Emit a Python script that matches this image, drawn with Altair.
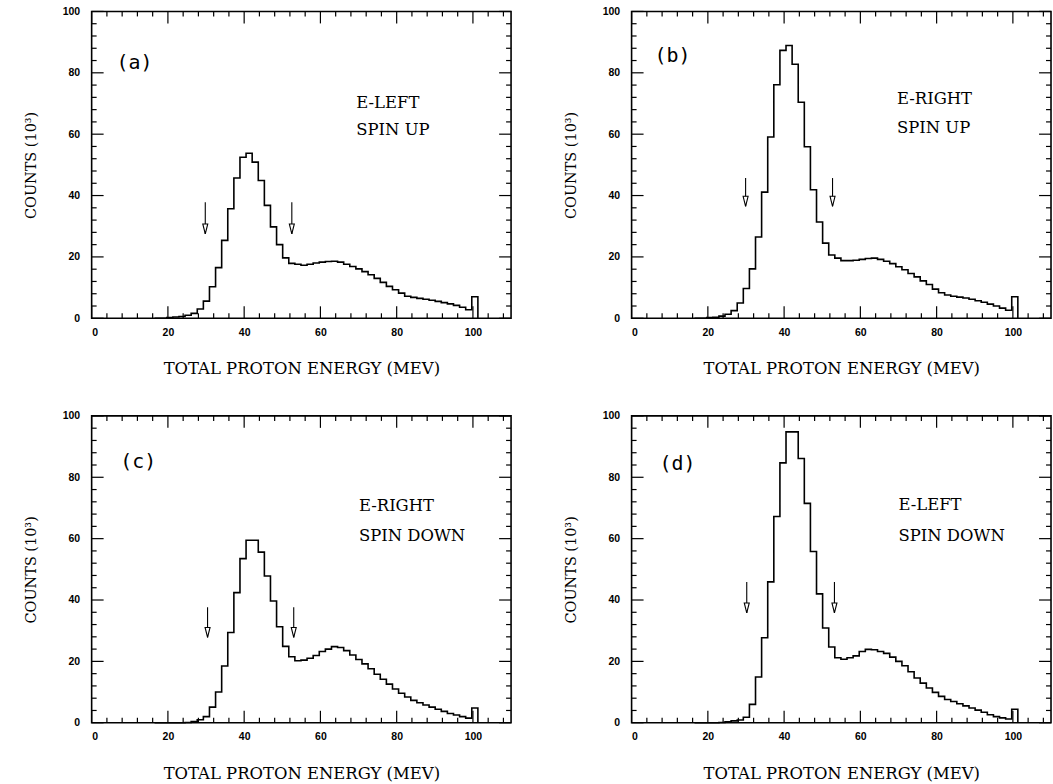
import altair as alt
import pandas as pd

# ---- data ----------------------------------------------------------------
# left edges of the energy bins (MeV); last entry closes the final bin
EDGES = [16.5, 18.1, 19.7, 21.3, 22.9, 24.5, 26.1, 27.7, 29.3, 30.9,
         32.5, 34.1, 35.7, 37.3, 38.9, 40.5, 42.1, 43.7, 45.3, 46.9,
         48.5, 50.1, 51.7, 53.3, 54.9, 56.5, 58.1, 59.7, 61.3, 62.9,
         64.5, 66.1, 67.7, 69.3, 70.9, 72.5, 74.1, 75.7, 77.3, 78.9,
         80.5, 82.1, 83.7, 85.3, 86.9, 88.5, 90.1, 91.7, 93.3, 94.9,
         96.5, 98.1, 99.7, 101.3]

# counts (10^3) per bin, one list per panel
COUNTS_A = [0, 0, 0.2, 0.4, 0.6, 1.0, 1.6, 3.0, 5.6, 10.3,
            16.5, 25.4, 35.7, 45.7, 52.5, 53.8, 50.9, 44.9, 36.8, 29.8,
            24.0, 19.7, 17.9, 17.6, 17.3, 17.6, 18.0, 18.3, 18.5, 18.6,
            18.3, 17.6, 16.9, 16.1, 15.2, 14.2, 13.0, 11.7, 10.4, 9.3,
            8.2, 7.2, 6.8, 6.5, 6.2, 5.9, 5.5, 5.1, 4.7, 4.2,
            3.6, 2.8, 7.0, 0]
COUNTS_B = [0, 0, 0.2, 0.3, 0.7, 1.3, 2.5, 5.0, 9.7, 16.1,
            26.5, 41.1, 59.1, 76.1, 87.3, 88.9, 82.8, 70.4, 55.9, 41.9,
            31.4, 24.5, 20.6, 19.6, 18.8, 18.8, 18.9, 19.2, 19.5, 19.6,
            19.2, 18.6, 17.8, 16.8, 15.8, 14.6, 13.5, 12.2, 11.0, 9.5,
            8.3, 7.6, 7.2, 6.9, 6.6, 6.2, 5.7, 5.2, 4.6, 4.0,
            3.3, 2.6, 7.0, 0]
COUNTS_C = [0, 0, 0, 0, 0, 0.1, 0.4, 1.0, 2.0, 5.1,
            10.0, 18.5, 29.4, 42.4, 53.5, 59.5, 59.5, 55.6, 47.8, 39.7,
            31.3, 24.9, 21.5, 20.2, 20.4, 21.0, 21.9, 23.2, 24.0, 24.8,
            24.5, 23.5, 22.1, 20.6, 19.2, 17.6, 15.8, 14.2, 12.6, 11.0,
            9.6, 8.4, 7.3, 6.5, 5.8, 5.1, 4.4, 3.7, 3.0, 2.5,
            2.0, 1.5, 4.8, 0]
COUNTS_D = [0, 0, 0, 0, 0.1, 0.3, 0.6, 0.9, 1.8, 6.0,
            14.9, 27.7, 45.9, 67.2, 84.7, 94.8, 94.8, 86.1, 71.5, 55.8,
            42.0, 30.9, 24.7, 21.2, 20.7, 21.2, 21.8, 23.2, 23.9, 23.8,
            23.2, 22.6, 21.4, 20.0, 18.6, 16.6, 14.6, 12.9, 11.3, 9.9,
            8.6, 7.6, 6.9, 6.2, 5.5, 4.8, 4.1, 3.4, 2.6, 2.0,
            1.6, 1.2, 4.4, 0]

# panel tags and annotations (x in MeV, y in counts)
TAGS = ["(a)", "(b)", "(c)", "(d)"]
TAG_X = [6.5, 6.0, 7.5, 7.3]
TAG_Y = [83.1, 85.4, 85.1, 84.4]
LINE1 = ["E-LEFT", "E-RIGHT", "E-RIGHT", "E-LEFT"]
LINE2 = ["SPIN UP", "SPIN UP", "SPIN DOWN", "SPIN DOWN"]
TXT_X = [69.4, 69.6, 70.1, 70.0]
LINE1_Y = [70.1, 71.4, 70.6, 71.1]
LINE2_Y = [61.4, 62.0, 60.8, 61.0]

# arrows marking the energy cuts
ARROW_X = [[29.8, 52.5], [29.9, 52.7], [30.4, 53.0], [30.2, 53.2]]
ARROW_TOP = [37.8, 45.7, 37.6, 45.9]
ARROW_TIP = [27.5, 36.5, 27.8, 35.8]

X_MAJOR = [0, 20, 40, 60, 80, 100]
X_MINOR = [4, 8, 12, 16, 24, 28, 32, 36, 44, 48, 52, 56, 64, 68, 72, 76,
           84, 88, 92, 96, 104, 108]
Y_MAJOR = [0, 20, 40, 60, 80, 100]
Y_MINOR = [4, 8, 12, 16, 24, 28, 32, 36, 44, 48, 52, 56, 64, 68, 72, 76,
           84, 88, 92, 96]

X_TITLE = "TOTAL PROTON ENERGY (MEV)"
Y_TITLE = "COUNTS (10³)"

# ---- layout / style --------------------------------------------------------
W, H = 421, 308
MAJOR_LEN, MINOR_LEN = 12, 5
XS = alt.Scale(domain=[0, 110], nice=False, zero=False)
YS = alt.Scale(domain=[0, 100], nice=False, zero=False)
SERIF = "DejaVu Serif"
LABEL_FONT = "Liberation Sans"

X_AXIS = alt.Axis(values=X_MAJOR, ticks=False, domain=False, grid=False,
                  labelFont=LABEL_FONT, labelFontWeight="bold",
                  labelFontSize=10.5, labelColor="black", labelPadding=9,
                  title=X_TITLE, titleFont=SERIF, titleFontWeight="normal",
                  titleFontSize=16.5, titleColor="black", titlePadding=23)
Y_AXIS = alt.Axis(values=Y_MAJOR, ticks=False, domain=False, grid=False,
                  labelFont=LABEL_FONT, labelFontWeight="bold",
                  labelFontSize=10.5, labelColor="black", labelPadding=12,
                  title=Y_TITLE, titleFont=SERIF, titleFontWeight="normal",
                  titleFontSize=14.5, titleColor="black", titlePadding=24)


def xq(field):
    return alt.X(field, type="quantitative", scale=XS, axis=X_AXIS)


def yq(field):
    return alt.Y(field, type="quantitative", scale=YS, axis=Y_AXIS)


def tick_layer(vals, side, length):
    df = pd.DataFrame({"v": vals})
    ch = alt.Chart(df).mark_rule(color="black", strokeWidth=1.2)
    if side == "bottom":
        return ch.encode(x=xq("v"), y=alt.value(H), y2=alt.value(H - length))
    if side == "top":
        return ch.encode(x=xq("v"), y=alt.value(0), y2=alt.value(length))
    if side == "left":
        return ch.encode(y=yq("v"), x=alt.value(0), x2=alt.value(length))
    return ch.encode(y=yq("v"), x=alt.value(W), x2=alt.value(W - length))


def panel(i, counts):
    hist = pd.DataFrame({"E": EDGES, "C": counts})
    line = alt.Chart(hist).mark_line(
        interpolate="step-after", color="black", strokeWidth=1.6
    ).encode(x=xq("E"), y=yq("C"))

    layers = [line]
    for side in ["bottom", "top"]:
        layers.append(tick_layer(X_MAJOR, side, MAJOR_LEN))
        layers.append(tick_layer(X_MINOR, side, MINOR_LEN))
    for side in ["left", "right"]:
        layers.append(tick_layer(Y_MAJOR, side, MAJOR_LEN))
        layers.append(tick_layer(Y_MINOR, side, MINOR_LEN))

    arr = pd.DataFrame({"x": ARROW_X[i], "top": [ARROW_TOP[i]] * 2,
                        "tip": [ARROW_TIP[i]] * 2})
    layers.append(alt.Chart(arr).mark_rule(color="black", strokeWidth=1.1).encode(
        x=xq("x"), y=yq("top"), y2="tip:Q"))
    layers.append(alt.Chart(arr).mark_point(
        shape="M-0.5,-1L0.5,-1L0,1Z", size=100, filled=True, fill="white",
        stroke="black", strokeWidth=1.1, opacity=1, yOffset=-5
    ).encode(x=xq("x"), y=yq("tip")))

    tag = pd.DataFrame({"x": [TAG_X[i]], "y": [TAG_Y[i]], "t": [TAGS[i]]})
    layers.append(alt.Chart(tag).mark_text(
        align="left", baseline="middle", font="DejaVu Sans Mono", fontSize=20,
        color="black").encode(x=xq("x"), y=yq("y"), text="t:N"))

    txt = pd.DataFrame({"x": [TXT_X[i], TXT_X[i]], "y": [LINE1_Y[i], LINE2_Y[i]],
                        "t": [LINE1[i], LINE2[i]]})
    layers.append(alt.Chart(txt).mark_text(
        align="left", baseline="middle", font=SERIF, fontSize=16.5,
        color="black").encode(x=xq("x"), y=yq("y"), text="t:N"))

    return alt.layer(*layers).properties(width=W, height=H)


pa = panel(0, COUNTS_A)
pb = panel(1, COUNTS_B)
pc = panel(2, COUNTS_C)
pd_ = panel(3, COUNTS_D)

row1 = alt.hconcat(pa, pb, spacing=49)
row2 = alt.hconcat(pc, pd_, spacing=49)
chart = alt.vconcat(row1, row2, spacing=32).properties(
    padding={"left": 22, "top": 4, "right": 0, "bottom": 0},
    background="white",
).configure_view(stroke="black", strokeWidth=1.6)

chart.save("out.html", embed_options={"renderer": "svg", "actions": False})
